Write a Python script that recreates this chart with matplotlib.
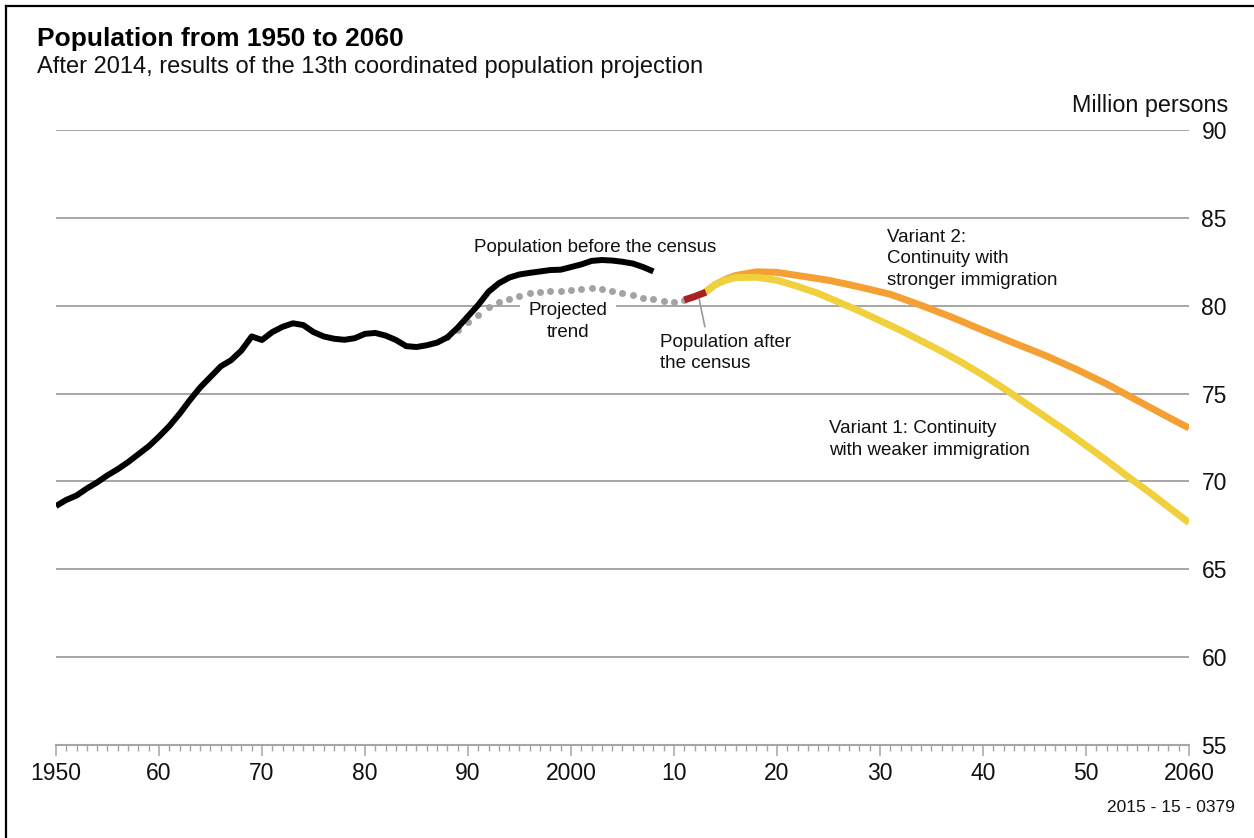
import matplotlib
matplotlib.use("Agg")
import matplotlib.pyplot as plt
from matplotlib.lines import Line2D
import numpy as np

plt.rcParams['font.family'] = ['Liberation Sans', 'DejaVu Sans']

# ---- data ----
hist_years = list(range(1950, 2009))
hist_values = [68.6, 68.95, 69.2, 69.6, 69.95, 70.35, 70.7, 71.1, 71.55, 72.0,
               72.55, 73.15, 73.85, 74.63, 75.35, 75.95, 76.55, 76.9, 77.45, 78.25,
               78.05, 78.5, 78.8, 79.0, 78.9, 78.5, 78.25, 78.12, 78.06, 78.15,
               78.4, 78.45, 78.3, 78.05, 77.7, 77.65, 77.75, 77.9, 78.2, 78.75,
               79.4, 80.05, 80.8, 81.28, 81.6, 81.78, 81.87, 81.95, 82.03, 82.05,
               82.2, 82.35, 82.55, 82.6, 82.57, 82.5, 82.4, 82.2, 81.95]

trend_years = list(range(1988, 2012))
trend_values = [78.2, 78.6, 79.1, 79.5, 79.9, 80.2, 80.4, 80.58, 80.7, 80.78,
                80.84, 80.86, 80.9, 80.97, 80.98, 80.94, 80.86, 80.72, 80.62, 80.45,
                80.37, 80.25, 80.23, 80.33]

census_years = [2011, 2012, 2013]
census_values = [80.33, 80.52, 80.77]

v2_years = [2013, 2014, 2015, 2016, 2018, 2020, 2022, 2025, 2028, 2031, 2034,
            2037, 2040, 2043, 2046, 2049, 2052, 2055, 2058, 2060]
v2_values = [80.77, 81.2, 81.5, 81.72, 81.93, 81.9, 81.72, 81.45, 81.07, 80.65,
             80.02, 79.34, 78.6, 77.88, 77.18, 76.4, 75.55, 74.6, 73.65, 73.04]

v1_years = [2013, 2014, 2015, 2016, 2018, 2020, 2022, 2024, 2026, 2028, 2030,
            2032, 2034, 2036, 2038, 2040, 2042, 2044, 2046, 2048, 2050, 2052,
            2054, 2056, 2058, 2060]
v1_values = [80.77, 81.2, 81.45, 81.6, 81.62, 81.45, 81.1, 80.7, 80.2, 79.7, 79.15,
             78.6, 78.0, 77.4, 76.75, 76.05, 75.3, 74.5, 73.7, 72.9, 72.05, 71.2,
             70.3, 69.45, 68.55, 67.65]

x_ticks = list(range(1950, 2061, 10))
x_labels = ["1950", "60", "70", "80", "90", "2000", "10", "20", "30", "40", "50", "2060"]
y_ticks = [55, 60, 65, 70, 75, 80, 85, 90]

GRID = '#a6a6a6'
BLACK = '#000000'
DOT = '#a3a3a3'
RED = '#a8201f'
ORANGE = '#f5a033'
YELLOW = '#f0d03c'

W, H = 1254, 838
fig = plt.figure(figsize=(W / 100, H / 100), dpi=100)
fig.patch.set_facecolor('white')

x0, x1 = 56, 1189
y0, y1 = 130, 745
ax = fig.add_axes([x0 / W, 1 - y1 / H, (x1 - x0) / W, (y1 - y0) / H])
ax.set_xlim(1950, 2060)
ax.set_ylim(55, 90)

for s in ['top', 'right', 'left']:
    ax.spines[s].set_visible(False)
ax.spines['bottom'].set_color(GRID)
ax.spines['bottom'].set_linewidth(1.5)

# gridlines
for v in y_ticks[1:]:
    ax.axhline(v, color=GRID, lw=1.4, zorder=1)

ax.yaxis.tick_right()
ax.set_yticks(y_ticks)
ax.set_yticklabels([str(v) for v in y_ticks])
ax.tick_params(axis='y', length=0, pad=9, labelsize=16.5, labelcolor='#111111')

ax.set_xticks(x_ticks)
ax.set_xticklabels(x_labels)
ax.set_xticks(list(range(1950, 2061)), minor=True)
ax.tick_params(axis='x', which='major', direction='out', length=8, width=1.1,
               color=GRID, pad=4.5, labelsize=16.5, labelcolor='#111111')
ax.tick_params(axis='x', which='minor', direction='out', length=4.5, width=1.0,
               color=GRID)

# series
ax.plot(trend_years, trend_values, linestyle='none', marker='o', markersize=5,
        color=DOT, markeredgewidth=0, zorder=3)
ax.plot(hist_years, hist_values, color=BLACK, lw=4.3, solid_capstyle='butt',
        solid_joinstyle='round', zorder=4)
ax.plot(v2_years, v2_values, color=ORANGE, lw=5, solid_capstyle='butt', zorder=4)
ax.plot(v1_years, v1_values, color=YELLOW, lw=5, solid_capstyle='butt', zorder=5)
ax.plot(census_years[:2] + [2013.1], census_values[:2] + [census_values[2]], color=RED,
        lw=5, solid_capstyle='butt', zorder=6)

# annotations
afs = 13.5
LS = 1.38
ax.text(1990.6, 83.34, "Population before the census", fontsize=afs,
        ha='left', va='center', color='#111111', zorder=7)
ax.text(1999.7, 79.1, "Projected\ntrend", fontsize=afs, ha='center', va='center',
        multialignment='center', color='#111111', zorder=2, linespacing=LS,
        bbox=dict(facecolor='white', edgecolor='none', pad=6))
ax.text(2008.64, 77.31, "Population after\nthe census", fontsize=afs,
        ha='left', va='center', color='#111111', zorder=7, linespacing=LS)
ax.annotate('', xy=(2012.4, 80.5), xytext=(2013.05, 78.65),
            arrowprops=dict(arrowstyle='-', color='#999999', lw=1.2), zorder=7)
ax.text(2030.68, 82.66, "Variant 2:\nContinuity with\nstronger immigration",
        fontsize=afs, ha='left', va='center', color='#111111', zorder=7,
        linespacing=LS)
ax.text(2025.05, 72.41, "Variant 1: Continuity\nwith weaker immigration",
        fontsize=afs, ha='left', va='center', color='#111111', zorder=7,
        linespacing=LS)

# titles
fig.text(37 / W, 1 - 46 / H, "Population from 1950 to 2060", fontsize=19,
         fontweight='bold', ha='left', va='baseline', color='#000000')
fig.text(37 / W, 1 - 73.5 / H, "After 2014, results of the 13th coordinated population projection",
         fontsize=17, ha='left', va='baseline', color='#111111')
fig.text(1228 / W, 1 - 112 / H, "Million persons", fontsize=16.8, ha='right',
         va='baseline', color='#111111')
fig.text(1235 / W, 1 - 807 / H, "2015 - 15 - 0379", fontsize=12.5, ha='right',
         va='center', color='#111111')

# frame (top and left)
fig.add_artist(Line2D([6 / W, 1], [1 - 6 / H, 1 - 6 / H], color='black', lw=1.6,
                      transform=fig.transFigure))
fig.add_artist(Line2D([6 / W, 6 / W], [0, 1 - 6 / H], color='black', lw=1.6,
                      transform=fig.transFigure))

fig.savefig('out.png', dpi=100, facecolor='white')
